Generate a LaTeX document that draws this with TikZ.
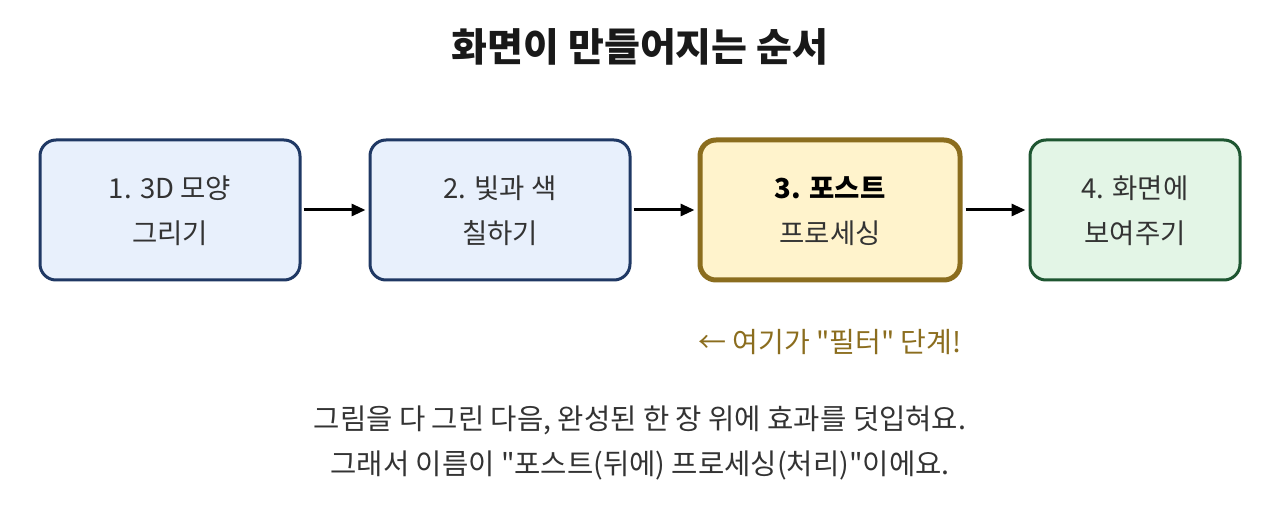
\documentclass[tikz,border=0pt]{standalone}
\usepackage{fontspec}
\setmainfont{Noto Sans CJK KR}[Ligatures=TeXOff]
\usetikzlibrary{arrows.meta}
\definecolor{navy}{HTML}{1F3864}
\definecolor{bluefill}{HTML}{E8F0FC}
\definecolor{gold}{HTML}{8B6D1E}
\definecolor{goldfill}{HTML}{FFF3CC}
\definecolor{green}{HTML}{1E5631}
\definecolor{greenfill}{HTML}{E3F5E6}
\definecolor{txt}{HTML}{333333}
\tikzset{
  stepbox/.style={rounded corners=16pt, line width=3pt, minimum height=140pt, align=center, inner sep=0pt},
  boxtext/.style={font=\fontsize{27.5}{34}\selectfont, text=txt, align=center},
  flow/.style={-{Stealth[length=14pt,width=12pt,inset=0pt]}, line width=3pt, black},
  para/.style={text=txt, font=\fontsize{28.6}{34}\selectfont},
}
\begin{document}
\begin{tikzpicture}[x=1pt,y=1pt]
\useasboundingbox (0,0) rectangle (1280,520);
\node[text=black!90] (title) at (640,473) {\fontsize{39}{44}\selectfont\bfseries 화면이 만들어지는 순서};
\node[stepbox, draw=navy, fill=bluefill, minimum width=260pt] (b1) at (170,310) {};
\node[stepbox, draw=navy, fill=bluefill, minimum width=260pt] (b2) at (500,310) {};
\node[stepbox, draw=gold, fill=goldfill, line width=5pt, minimum width=260pt] (b3) at (830,310) {};
\node[stepbox, draw=green, fill=greenfill, minimum width=210pt] (b4) at (1135,310) {};
\node[boxtext] (t1a) at (170,332) {1. 3D 모양};
\node[boxtext] (t1b) at (170,287) {그리기};
\node[boxtext] (t2a) at (500,332) {2. 빛과 색};
\node[boxtext] (t2b) at (500,287) {칠하기};
\node[boxtext, text=black] (t3a) at (830,332) {\bfseries 3. 포스트};
\node[boxtext] (t3b) at (830,287) {프로세싱};
\node[boxtext] (t4a) at (1135,332) {4. 화면에};
\node[boxtext] (t4b) at (1135,287) {보여주기};
\draw[flow] ([xshift=2pt]b1.east) -- ([xshift=-3pt]b2.west);
\draw[flow] ([xshift=2pt]b2.east) -- ([xshift=-3pt]b3.west);
\draw[flow] ([xshift=3pt]b3.east) -- ([xshift=-3pt]b4.west);
\node[para, text=gold, font=\fontsize{28}{34}\selectfont] (note) at (830,178) {← 여기가 "필터" 단계!};
\node[para] (l1) at (640,100) {그림을 다 그린 다음, 완성된 한 장 위에 효과를 덧입혀요.};
\node[para] (l2) at (640,55) {그래서 이름이 "포스트(뒤에) 프로세싱(처리)"이에요.};
\end{tikzpicture}
\end{document}
